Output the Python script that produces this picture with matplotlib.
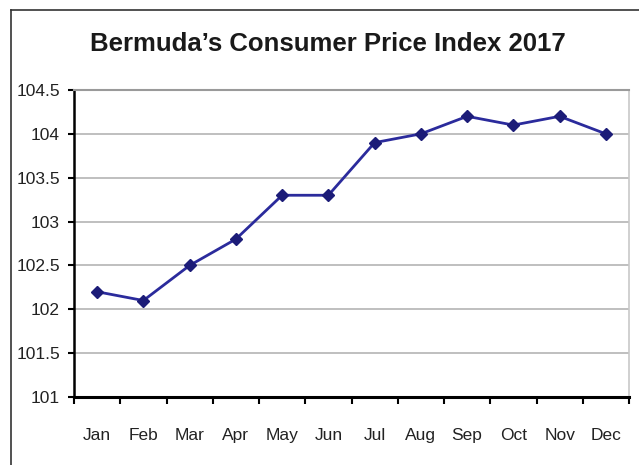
import matplotlib.pyplot as plt
from matplotlib.lines import Line2D
import numpy as np

months = ["Jan", "Feb", "Mar", "Apr", "May", "Jun",
          "Jul", "Aug", "Sep", "Oct", "Nov", "Dec"]
cpi = [102.2, 102.1, 102.5, 102.8, 103.3, 103.3,
       103.9, 104.0, 104.2, 104.1, 104.2, 104.0]
y_ticks = [101, 101.5, 102, 102.5, 103, 103.5, 104, 104.5]
y_labels = ["101", "101.5", "102", "102.5", "103", "103.5", "104", "104.5"]

plt.rcParams['font.family'] = ['Liberation Sans', 'DejaVu Sans']

fig = plt.figure(figsize=(6.39, 4.65), dpi=100)
ax = fig.add_axes([74 / 639, 1 - 397 / 465, 555 / 639, 307 / 465])

# frame around the whole chart (only top and left edges show)
fig.add_artist(Line2D([11 / 639, 1.0], [1 - 10 / 465] * 2, color="#333333", lw=1.2))
fig.add_artist(Line2D([11 / 639] * 2, [0.0, 1 - 10 / 465], color="#333333", lw=1.2))

x = np.arange(len(months)) + 0.5
ax.plot(x, cpi, color="#2b2b9c", lw=2, marker="D", markersize=6,
        markerfacecolor="#1c1c78", markeredgecolor="#1c1c78", zorder=3)

ax.set_xlim(0, 12)
ax.set_ylim(101, 104.5)
ax.set_yticks(y_ticks)
ax.set_yticklabels(y_labels)
ax.yaxis.grid(True, color="#b4b4b4", lw=1.2)
ax.set_axisbelow(True)

# ticks sit on the category boundaries, labels in the middle
ax.set_xticks(np.arange(13))
ax.set_xticklabels([])
ax.set_xticks(x, minor=True)
ax.set_xticklabels(months, minor=True)
ax.tick_params(axis="x", which="major", length=5, width=1.5, direction="out")
ax.tick_params(axis="x", which="minor", length=0, pad=22, labelsize=12.5, colors="#222222")
ax.tick_params(axis="y", length=4, width=1.5, direction="out", labelsize=12.5,
               colors="#222222", pad=6)
ax.tick_params(axis="both", color="black")

ax.spines["left"].set_linewidth(1.8)
ax.spines["bottom"].set_linewidth(2.2)
ax.spines["top"].set_color("#9a9a9a")
ax.spines["top"].set_linewidth(1.5)
ax.spines["right"].set_color("#c8c8c8")
ax.spines["right"].set_linewidth(1.2)

fig.text(328 / 639, 1 - 44 / 465, "Bermuda\u2019s Consumer Price Index 2017",
         ha="center", va="center", fontsize=18.5, fontweight="bold", color="#1a1a1a")

fig.savefig("out.png", dpi=100)
